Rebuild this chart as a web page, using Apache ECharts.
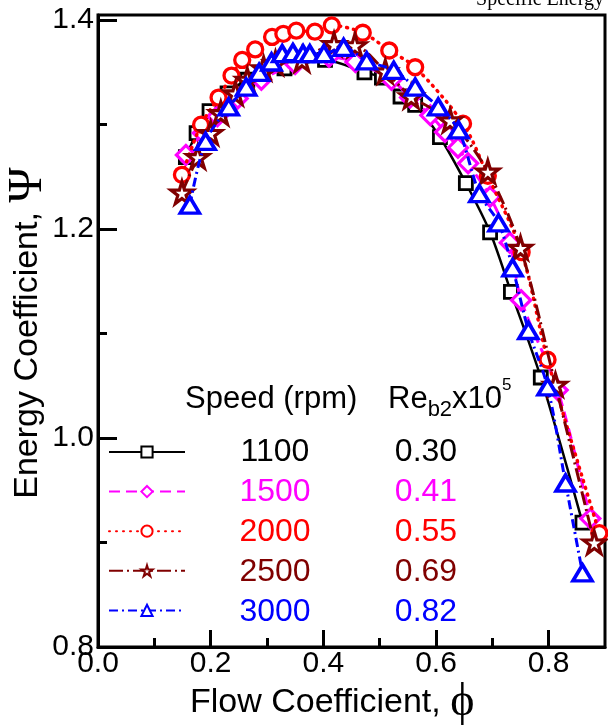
<!DOCTYPE html>
<html><head><meta charset="utf-8">
<script src="https://cdn.jsdelivr.net/npm/echarts@6/dist/echarts.min.js"></script>
<style>html,body{margin:0;padding:0;background:#fff}#c{width:608px;height:727px}</style>
</head><body><div id="c"></div>
<script>
// ---- data ----
const speeds = ['1100', '1500', '2000', '2500', '3000'];
const reValues = ['0.30', '0.41', '0.55', '0.69', '0.82'];

const phi1100 = [0.156,0.175,0.198,0.230,0.265,0.331,0.403,0.473,0.504,0.537,0.563,0.607,0.653,0.696,0.733,0.786,0.860];
const psi1100 = [1.269,1.292,1.313,1.330,1.343,1.354,1.362,1.350,1.345,1.327,1.319,1.288,1.244,1.197,1.140,1.058,0.919];

const phi1500 = [0.156,0.186,0.212,0.248,0.290,0.350,0.410,0.457,0.521,0.554,0.590,0.616,0.639,0.657,0.696,0.731,0.751,0.816,0.874];
const psi1500 = [1.271,1.292,1.308,1.325,1.343,1.358,1.365,1.360,1.343,1.326,1.309,1.293,1.278,1.263,1.231,1.187,1.132,1.046,0.923];

const phi2000 = [0.149,0.183,0.214,0.237,0.256,0.279,0.309,0.329,0.352,0.385,0.415,0.470,0.517,0.563,0.648,0.692,0.752,0.798,0.890];
const psi2000 = [1.252,1.300,1.326,1.347,1.362,1.372,1.384,1.387,1.390,1.389,1.395,1.388,1.371,1.355,1.301,1.251,1.178,1.075,0.909];

const phi2500 = [0.149,0.177,0.200,0.218,0.244,0.265,0.294,0.315,0.362,0.419,0.456,0.510,0.556,0.625,0.692,0.750,0.812,0.881];
const psi2500 = [1.235,1.269,1.292,1.311,1.330,1.343,1.354,1.359,1.362,1.377,1.376,1.351,1.327,1.304,1.255,1.182,1.051,0.900];

const phi3000 = [0.163,0.191,0.232,0.263,0.286,0.308,0.327,0.346,0.364,0.376,0.401,0.436,0.477,0.525,0.563,0.604,0.640,0.677,0.711,0.736,0.764,0.798,0.830,0.860];
const psi3000 = [1.223,1.284,1.317,1.336,1.350,1.360,1.368,1.369,1.368,1.368,1.368,1.374,1.361,1.352,1.336,1.317,1.295,1.234,1.206,1.163,1.103,1.049,0.957,0.871];

const xTickValues = [0, 0.2, 0.4, 0.6, 0.8];
const xMinorValues = [0.1, 0.3, 0.5, 0.7];
const yTickValues = [0.8, 1.0, 1.2, 1.4];
const yMinorValues = [0.9, 1.1, 1.3];

// ---- styles ----
const SANS = '"Liberation Sans", Arial, sans-serif';
const SERIF = '"Liberation Serif", "DejaVu Serif", serif';
const colors = ['#000000', '#FF00FF', '#FF0000', '#800000', '#0000FF'];
const STAR = 'path://M50,0 L61,35 L98,35 L68,57 L79,91 L50,70 L21,91 L32,57 L2,35 L39,35 Z';
const styleDefs = [
  { symbol: 'rect', size: 13, border: 2.8, line: { type: 'solid', width: 2.5 } },
  { symbol: 'diamond', size: 19, border: 3.2, line: { type: [11, 6], width: 3 } },
  { symbol: 'circle', size: 15, border: 3.3, line: { type: [1, 6], width: 3.5, cap: 'round' } },
  { symbol: STAR, size: 22, border: 3.2, line: { type: [14, 4, 2, 4], width: 3 } },
  { symbol: 'triangle', size: [19, 16], border: 3.6, line: { type: [9, 4, 2, 4], width: 3 } }
];
const xs = [phi1100, phi1500, phi2000, phi2500, phi3000];
const ys = [psi1100, psi1500, psi2000, psi2500, psi3000];

const series = speeds.map((name, i) => ({
  name: name,
  type: 'line',
  xAxisIndex: 0, yAxisIndex: 0,
  smooth: 0.3,
  data: xs[i].map((x, k) => [x, ys[i][k]]),
  symbol: styleDefs[i].symbol,
  symbolSize: styleDefs[i].size,
  showAllSymbol: true,
  itemStyle: { color: '#fff', borderColor: colors[i], borderWidth: styleDefs[i].border },
  lineStyle: Object.assign({ color: colors[i] }, styleDefs[i].line),
  emphasis: { disabled: true },
  animation: false,
  z: 2 + i
}));

const fmt = v => v.toFixed(1);
const gridPos = { left: 98, right: 3, top: 15, bottom: 80 };

const rowY = speeds.map((s, i) => 452 + 40 * i);
const graphics = [];
speeds.forEach((s, i) => {
  graphics.push({ type: 'text', x: 275, y: rowY[i], silent: true,
    style: { text: s, fill: colors[i], font: '32px ' + SANS, align: 'center', verticalAlign: 'middle' } });
  graphics.push({ type: 'text', x: 426, y: rowY[i], silent: true,
    style: { text: reValues[i], fill: colors[i], font: '32px ' + SANS, align: 'center', verticalAlign: 'middle' } });
});
graphics.push({ type: 'text', x: 185, y: 399, silent: true,
  style: { text: 'Speed (rpm)', fill: '#000', font: '31px ' + SANS, align: 'left', verticalAlign: 'middle' } });
graphics.push({ type: 'text', x: 388, y: 377, silent: true,
  style: { text: 'Re{b|b2}x10{p|5}', fill: '#000', font: '31px ' + SANS, lineHeight: 44,
    align: 'left', verticalAlign: 'top',
    rich: {
      b: { fontSize: 22, fontFamily: SANS, lineHeight: 12, verticalAlign: 'bottom', fill: '#000' },
      p: { fontSize: 17, fontFamily: SANS, lineHeight: 22, verticalAlign: 'top', fill: '#000' }
    } } });
// axis titles
graphics.push({ type: 'text', x: 190, y: 703, silent: true,
  style: { text: 'Flow Coefficient, {p|ϕ}', fill: '#000', font: '34px ' + SANS, lineHeight: 50,
    align: 'left', verticalAlign: 'middle',
    rich: { p: { fontSize: 46, fontFamily: SERIF, lineHeight: 50, fill: '#000' } } } });
graphics.push({ type: 'text', x: 28, y: 333, rotation: Math.PI / 2, silent: true,
  style: { text: 'Energy Coefficient, {p|Ψ}', fill: '#000', font: '34px ' + SANS, lineHeight: 50,
    align: 'center', verticalAlign: 'middle',
    rich: { p: { fontSize: 48, fontFamily: SERIF, lineHeight: 50, fill: '#000' } } } });
// caption cropped at the top edge of the picture
graphics.push({ type: 'text', x: 604, y: 10, silent: true,
  style: { text: 'Specific Energy', fill: '#000', font: '20px ' + SERIF, lineHeight: 20, align: 'right', verticalAlign: 'bottom' } });

const chart = echarts.init(document.getElementById('c'), null, { renderer: 'canvas' });
chart.setOption({
  animation: false,
  backgroundColor: '#fff',
  grid: [
    Object.assign({ show: true, borderColor: '#000', borderWidth: 3, backgroundColor: 'transparent', containLabel: false }, gridPos),
    Object.assign({ show: false, containLabel: false }, gridPos)
  ],
  xAxis: [
    { type: 'value', gridIndex: 0, min: 0, max: 0.9,
      axisLine: { show: true, lineStyle: { color: '#000', width: 3 } },
      axisTick: { show: true, inside: true, length: 17, customValues: xTickValues, lineStyle: { color: '#000', width: 3 } },
      axisLabel: { show: true, customValues: xTickValues, formatter: fmt, color: '#000', fontSize: 30, fontFamily: SANS, margin: 2 },
      splitLine: { show: false } },
    { type: 'value', gridIndex: 1, min: 0, max: 0.9,
      axisLine: { show: false },
      axisTick: { show: true, inside: true, length: 9, customValues: xMinorValues, lineStyle: { color: '#000', width: 3 } },
      axisLabel: { show: false }, splitLine: { show: false } }
  ],
  yAxis: [
    { type: 'value', gridIndex: 0, min: 0.8, max: 1.405,
      axisLine: { show: true, lineStyle: { color: '#000', width: 3 } },
      axisTick: { show: true, inside: true, length: 19, customValues: yTickValues, lineStyle: { color: '#000', width: 3 } },
      axisLabel: { show: true, customValues: yTickValues, formatter: fmt, color: '#000', fontSize: 30, fontFamily: SANS, margin: 4 },
      splitLine: { show: false } },
    { type: 'value', gridIndex: 1, min: 0.8, max: 1.405,
      axisLine: { show: false },
      axisTick: { show: true, inside: true, length: 9, customValues: yMinorValues, lineStyle: { color: '#000', width: 3 } },
      axisLabel: { show: false }, splitLine: { show: false } }
  ],
  legend: {
    data: speeds, left: 108, top: 445, orient: 'vertical', padding: 0,
    itemWidth: 76, itemHeight: 14, itemGap: 26, selectedMode: false,
    formatter: () => '', textStyle: { fontSize: 1 }
  },
  graphic: graphics,
  series: series
});
</script></body></html>
